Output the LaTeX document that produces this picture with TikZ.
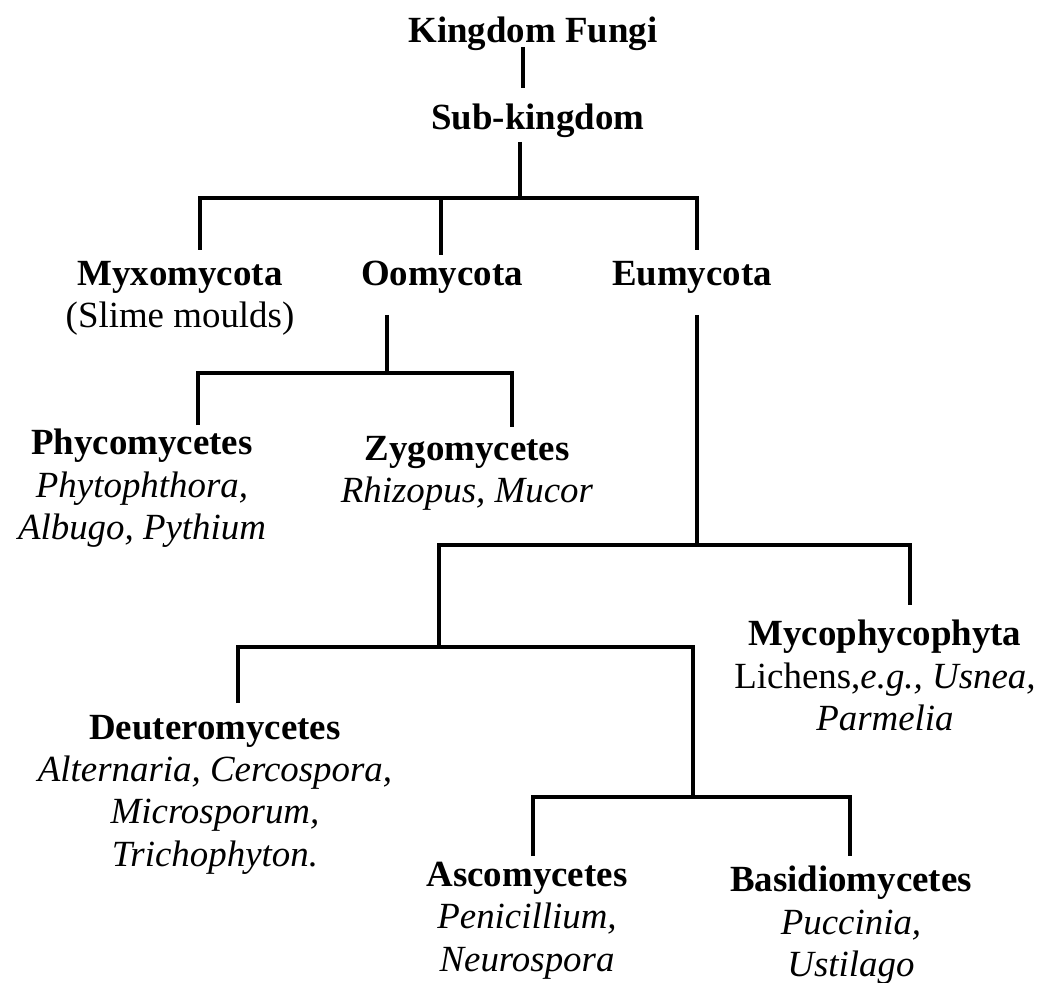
\documentclass[tikz,border=0pt]{standalone}
\usepackage{fontspec}
\setmainfont{Liberation Serif}
\usepackage{tikz}
\tikzset{taxon/.style={align=center, inner sep=0pt, anchor=north,
  font=\fontsize{21}{24}\selectfont},
  link/.style={line width=2.3pt}}

\begin{document}
\begin{tikzpicture}[x=0.02cm, y=-0.02cm]
  \useasboundingbox (0,0) rectangle (1042,983);
  \node[taxon] (kf)    at (533,17)  {\textbf{Kingdom Fungi}};
  \node[taxon] (sub)   at (538,104) {\textbf{Sub-kingdom}};
  \node[taxon] (myxo)  at (180,261) {\textbf{Myxomycota}\\(Slime moulds)};
  \node[taxon] (oomy)  at (442,261) {\textbf{Oomycota}};
  \node[taxon] (eumy)  at (692,261) {\textbf{Eumycota}};
  \node[taxon] (phyco) at (142,429) {\textbf{Phycomycetes}\\\textit{Phytophthora,}\\\textit{Albugo, Pythium}};
  \node[taxon] (zygo)  at (467,436) {\textbf{Zygomycetes}\\\textit{Rhizopus, Mucor}};
  \node[taxon] (myco)  at (885,620) {\textbf{Mycophycophyta}\\Lichens,\textit{e.g.,} \textit{Usnea,}\\\textit{Parmelia}};
  \node[taxon] (deut)  at (215,715) {\textbf{Deuteromycetes}\\\textit{Alternaria, Cercospora,}\\\textit{Microsporum,}\\\textit{Trichophyton.}};
  \node[taxon] (asco)  at (527,862) {\textbf{Ascomycetes}\\\textit{Penicillium,}\\\textit{Neurospora}};
  \node[taxon] (basid) at (851,866) {\textbf{Basidiomycetes}\\\textit{Puccinia,}\\\textit{Ustilago}};
  % split points and line ends
  \coordinate (j0) at (520,198);
  \coordinate (j1) at (387,373);
  \coordinate (j2) at (697,545);
  \coordinate (j3) at (439,647);
  \coordinate (j4) at (693,797);
  \coordinate (kf-b)    at (523,47);
  \coordinate (sub-t)   at (523,88);
  \coordinate (sub-b)   at (520,142);
  \coordinate (oomy-b)  at (387,315);
  \coordinate (eumy-b)  at (697,315);
  \coordinate (myxo-t)  at (200,250);
  \coordinate (oomy-t)  at (441,255);
  \coordinate (eumy-t)  at (697,250);
  \coordinate (phyco-t) at (198,425);
  \coordinate (zygo-t)  at (512,427);
  \coordinate (myco-t)  at (910,605);
  \coordinate (deut-t)  at (238,703);
  \coordinate (asco-t)  at (533,856);
  \coordinate (basid-t) at (850,856);
  % tree lines
  \draw[link] (kf-b) -- (sub-t);
  \draw[link] (sub-b) -- (j0);
  \draw[link] (myxo-t) |- (j0) -| (eumy-t);
  \draw[link] (j0 -| oomy-t) -- (oomy-t);
  \draw[link] (oomy-b) -- (j1);
  \draw[link] (phyco-t) |- (j1) -| (zygo-t);
  \draw[link] (eumy-b) -- (j2);
  \draw[link] (j3) |- (j2) -| (myco-t);
  \draw[link] (deut-t) |- (j3) -| (j4);
  \draw[link] (asco-t) |- (j4) -| (basid-t);
\end{tikzpicture}
\end{document}
